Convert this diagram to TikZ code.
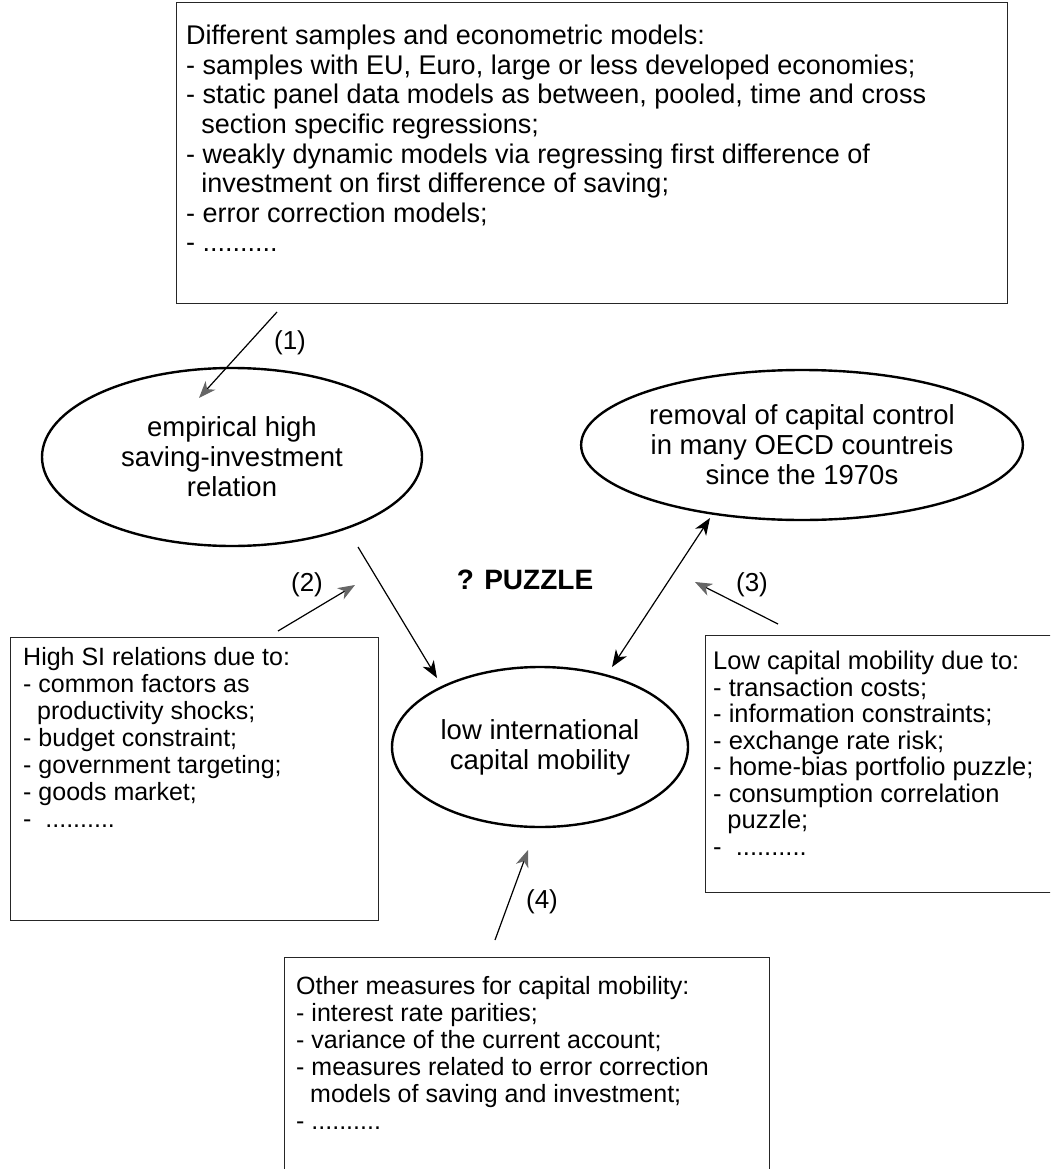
\documentclass[tikz,border=0pt]{standalone}
\usepackage{fontspec}
\setmainfont{Liberation Sans}
\usepackage{tikz}
\usetikzlibrary{arrows.meta,shapes,positioning,calc}
\newcommand{\indln}{\hspace*{0.56em}}

\begin{document}
\begin{tikzpicture}[x=1pt,y=-1pt,
	box/.style={draw=black!85,line width=1.3pt,anchor=north west,inner sep=0pt},
	boxtext/.style={align=left,inner sep=0pt,font=\fontsize{25}{27}\selectfont},
	oval/.style={draw,ellipse,line width=2.4pt,align=center,font=\fontsize{27.5}{30}\selectfont},
	grayarrow/.style={line width=1.2pt,-{Stealth[length=17pt,width=13pt,inset=5pt,color=black!60]}},
	blackarrow/.style={line width=1.2pt,-{Stealth[length=17pt,width=13pt,inset=5pt]}},
	botharrow/.style={line width=1.2pt,{Stealth[length=17pt,width=13pt,inset=5pt]}-{Stealth[length=17pt,width=13pt,inset=5pt]}},
	lbl/.style={font=\fontsize{26}{28}\selectfont}]

	\useasboundingbox (0,0) rectangle (1050,1169);
	\clip (0,0) rectangle (1050,1169);

	% text boxes
	\node[box,minimum width=831pt,minimum height=301pt] (topbox) at (176,2) {};
	\node[boxtext,font=\fontsize{27}{29.6}\selectfont,below right=23pt and 10pt of topbox.north west] (toptext)
		{Different samples and econometric models:\\
		 - samples with EU, Euro, large or less developed economies;\\
		 - static panel data models as between, pooled, time and cross\\
		 \indln section specific regressions;\\
		 - weakly dynamic models via regressing first difference of\\
		 \indln investment on first difference of saving;\\
		 - error correction models;\\
		 - ..........};

	\node[box,minimum width=368pt,minimum height=283pt] (sibox) at (10,637) {};
	\node[boxtext,below right=10pt and 13pt of sibox.north west] (sitext)
		{High SI relations due to:\\
		 - common factors as\\
		 \indln productivity shocks;\\
		 - budget constraint;\\
		 - government targeting;\\
		 - goods market;\\
		 - \ ..........};

	\node[box,minimum width=360pt,minimum height=257pt] (mobbox) at (705,635) {};
	\node[boxtext,font=\fontsize{25.5}{26.5}\selectfont,below right=16pt and 8pt of mobbox.north west] (mobtext)
		{Low capital mobility due to:\\
		 - transaction costs;\\
		 - information constraints;\\
		 - exchange rate risk;\\
		 - home-bias portfolio puzzle;\\
		 - consumption correlation\\
		 \indln puzzle;\\
		 - \ ..........};

	\node[box,minimum width=485pt,minimum height=240pt] (measbox) at (284,957) {};
	\node[boxtext,below right=19pt and 12pt of measbox.north west] (meastext)
		{Other measures for capital mobility:\\
		 - interest rate parities;\\
		 - variance of the current account;\\
		 - measures related to error correction\\
		 \indln models of saving and investment;\\
		 - ..........};

	% ellipses
	\node[oval,minimum width=380pt,minimum height=178pt] (siell) at (232,457) {empirical high\\saving-investment\\relation};
	\node[oval,minimum width=414pt,minimum height=150pt] (ctrlell) at (802,445) {removal of capital control\\in many OECD countreis\\since the 1970s};
	\node[oval,minimum width=296pt,minimum height=160pt] (lowell) at (540,747) {low international\\capital mobility};

	\node[font=\bfseries\fontsize{28}{30}\selectfont] (puzzle) at (525,580) {? PUZZLE};

	% arrow ends
	\coordinate (a1t) at (277,312);  \coordinate (a1h) at (199,398);
	\coordinate (a2t) at (278,631);  \coordinate (a2h) at (355,585);
	\coordinate (a3t) at (778,624);  \coordinate (a3h) at (695,582);
	\coordinate (a4t) at (495,940);  \coordinate (a4h) at (528,850);
	\coordinate (bt)  at (358,547);  \coordinate (bh)  at (437,678);
	\coordinate (dlo) at (612,667);  \coordinate (dhi) at (710,518);

	\draw[grayarrow] (a1t) -- (a1h);
	\draw[grayarrow] (a2t) -- (a2h);
	\draw[grayarrow] (a3t) -- (a3h);
	\draw[grayarrow] (a4t) -- (a4h);
	\draw[blackarrow] (bt) -- (bh);
	\draw[botharrow] (dlo) -- (dhi);

	\node[lbl] (l1) at (290,343) {(1)};
	\node[lbl] (l2) at (307,585) {(2)};
	\node[lbl] (l3) at (752,585) {(3)};
	\node[lbl] (l4) at (542,902) {(4)};
\end{tikzpicture}
\end{document}
